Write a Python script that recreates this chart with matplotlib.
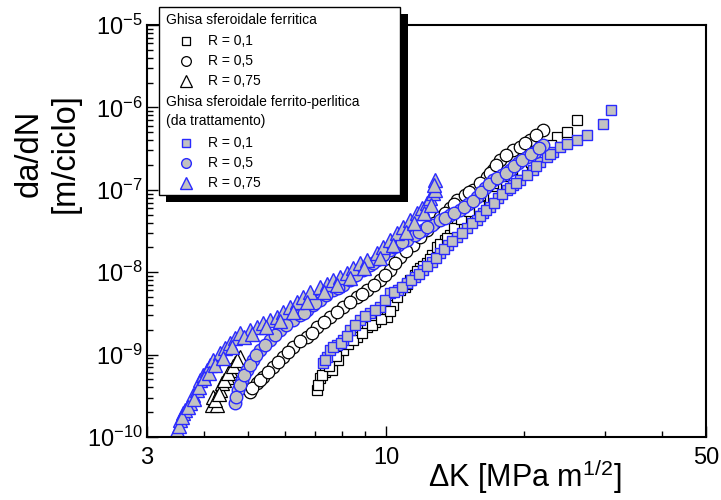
import matplotlib
matplotlib.use('Agg')
import matplotlib.pyplot as plt
from matplotlib.patches import Rectangle
from matplotlib.ticker import FixedLocator, NullFormatter, LogLocator, LogFormatterSciNotation

plt.rcParams['font.family'] = ['Liberation Sans', 'DejaVu Sans']
plt.rcParams['mathtext.fontset'] = 'custom'
plt.rcParams['mathtext.rm'] = 'Liberation Sans'
plt.rcParams['mathtext.it'] = 'Liberation Sans:italic'
plt.rcParams['mathtext.bf'] = 'Liberation Sans:bold'

# ---------------- data ----------------
# Ghisa sferoidale ferritica
fer_r01_dk = [7.058, 7.165, 7.349, 7.614, 7.847, 8.046, 8.634, 9.08, 9.45, 10.04, 10.35, 10.72,
              10.99, 11.27, 11.56, 11.85, 12.28, 12.60, 12.91, 13.44, 13.78, 14.28, 14.87, 15.48,
              16.44, 16.86, 17.47, 17.99, 18.64, 19.31, 20.31, 21.15, 22.23, 23.62, 24.84, 26.12,
              7.10, 7.25, 7.50, 7.75, 8.25, 8.45, 8.85, 9.30, 9.75, 10.20, 10.55, 11.10, 11.70,
              12.05, 12.45, 13.10, 13.60, 14.05, 14.55, 15.20, 15.95, 17.15, 18.30, 19.00, 19.80,
              20.75, 21.70, 22.90]
fer_r01_da = [3.72e-10, 5.20e-10, 6.15e-10, 6.50e-10, 8.60e-10, 1.14e-9, 1.64e-9, 2.16e-9, 2.49e-9,
              2.86e-9, 4.00e-9, 6.08e-9, 6.61e-9, 8.04e-9, 9.25e-9, 1.12e-8, 1.29e-8, 1.62e-8,
              2.02e-8, 2.46e-8, 2.83e-8, 3.96e-8, 4.94e-8, 6.18e-8, 6.54e-8, 7.95e-8, 9.14e-8,
              1.05e-7, 1.21e-7, 1.51e-7, 2.00e-7, 2.30e-7, 2.87e-7, 4.37e-7, 5.03e-7, 7.03e-7,
              4.3e-10, 5.6e-10, 7.2e-10, 9.5e-10, 1.35e-9, 1.50e-9, 1.85e-9, 2.3e-9, 2.7e-9,
              3.4e-9, 5.0e-9, 7.2e-9, 1.02e-8, 1.18e-8, 1.45e-8, 2.2e-8, 2.6e-8, 3.4e-8, 4.4e-8,
              5.5e-8, 6.3e-8, 8.5e-8, 1.12e-7, 1.35e-7, 1.75e-7, 2.15e-7, 2.60e-7, 3.5e-7]

fer_r05_dk = [5.037, 5.218, 5.379, 5.656, 5.948, 6.254, 6.711, 7.058, 7.537, 8.046, 8.634, 9.08,
              9.691, 10.19, 10.72, 11.44, 12.28, 13.11, 13.78, 14.28, 14.87, 15.48, 16.61, 17.12,
              17.73, 18.93, 19.61, 20.62, 22.02,
              5.10, 5.30, 5.52, 5.80, 6.10, 6.48, 6.88, 7.30, 7.80, 8.33, 8.85, 9.40, 9.95, 10.45,
              11.05, 11.85, 12.70, 13.45, 14.05, 15.15, 16.05, 16.85, 17.40, 18.30, 20.10, 21.30]
fer_r05_da = [3.52e-10, 4.52e-10, 5.35e-10, 7.07e-10, 9.35e-10, 1.24e-9, 1.64e-9, 2.16e-9, 2.86e-9,
              3.78e-9, 5.00e-9, 6.08e-9, 8.04e-9, 1.06e-8, 1.53e-8, 2.14e-8, 3.25e-8, 4.68e-8,
              6.01e-8, 7.52e-8, 8.65e-8, 9.94e-8, 1.43e-7, 1.74e-7, 2.30e-7, 3.04e-7, 3.31e-7,
              4.02e-7, 5.32e-7,
              3.9e-10, 4.9e-10, 6.2e-10, 8.2e-10, 1.08e-9, 1.45e-9, 1.85e-9, 2.5e-9, 3.3e-9,
              4.4e-9, 5.5e-9, 7.0e-9, 9.2e-9, 1.28e-8, 1.8e-8, 2.7e-8, 3.9e-8, 5.3e-8, 6.7e-8,
              9.3e-8, 1.2e-7, 1.58e-7, 2.0e-7, 2.65e-7, 3.65e-7, 4.6e-7]

fer_r075_dk = [4.161, 4.267, 4.182, 4.332, 4.375, 4.487, 4.555, 4.671, 4.790,
               4.22, 4.30, 4.42, 4.52, 4.62, 4.72]
fer_r075_da = [2.44e-10, 2.44e-10, 3.06e-10, 3.72e-10, 4.52e-10, 5.35e-10, 6.50e-10, 7.91e-10, 9.35e-10,
               2.8e-10, 3.3e-10, 4.9e-10, 5.9e-10, 7.2e-10, 8.5e-10]

# Ghisa sferoidale ferrito-perlitica (da trattamento)
fp_r01_dk = [7.275, 7.42, 7.537, 7.80, 8.046, 8.335, 8.766, 9.21, 9.691, 10.19, 10.61, 11.10, 11.56,
             12.03, 12.60, 13.11, 13.65, 14.28, 15.02, 15.79, 16.28, 16.86, 17.55, 18.37, 18.93,
             19.61, 20.94, 21.69, 22.46, 23.14, 23.98, 26.12, 27.47, 29.78, 30.99,
             7.35, 7.65, 7.95, 8.20, 8.55, 9.00, 9.45, 9.95, 10.40, 10.85, 11.35, 11.80, 12.30,
             12.85, 13.40, 13.95, 14.65, 15.40, 16.00, 16.55, 17.20, 17.95, 18.65, 19.25, 20.30,
             21.30, 22.80, 24.80]
fp_r01_da = [7.91e-10, 9.35e-10, 1.14e-9, 1.31e-9, 1.50e-9, 1.99e-9, 2.63e-9, 3.20e-9, 3.78e-9,
             5.59e-9, 6.08e-9, 7.39e-9, 8.74e-9, 1.06e-8, 1.33e-8, 1.71e-8, 2.14e-8, 2.67e-8,
             3.44e-8, 4.30e-8, 5.23e-8, 6.18e-8, 7.95e-8, 9.94e-8, 1.14e-7, 1.315e-7, 1.74e-7,
             2.17e-7, 2.50e-7, 2.87e-7, 3.31e-7, 4.02e-7, 4.62e-7, 6.29e-7, 9.30e-7,
             8.5e-10, 1.22e-9, 1.40e-9, 1.7e-9, 2.3e-9, 2.9e-9, 3.5e-9, 4.6e-9, 5.8e-9, 6.7e-9,
             8.0e-9, 9.6e-9, 1.2e-8, 1.5e-8, 1.9e-8, 2.4e-8, 3.0e-8, 3.9e-8, 4.8e-8, 5.7e-8,
             7.0e-8, 8.9e-8, 1.05e-7, 1.22e-7, 1.52e-7, 1.95e-7, 2.70e-7, 3.6e-7]

fp_r05_dk = [4.671, 4.742, 4.839, 4.962, 5.114, 5.298, 5.572, 5.858, 6.254, 6.478, 6.711, 6.917,
             7.165, 7.652, 8.046, 8.335, 8.898, 9.21, 9.546, 10.19, 10.61, 11.10, 11.56, 12.03,
             12.60, 13.11, 13.78, 14.50, 15.09, 15.79, 16.44, 17.12, 17.91, 18.64, 19.41, 20.31,
             21.15, 22.02,
             4.70, 4.79, 4.90, 5.04, 5.20, 5.43, 5.70, 6.05, 6.60, 7.00, 7.40, 7.85, 8.60, 9.35,
             9.85, 10.40, 10.85, 11.80, 12.30, 13.45, 14.10, 14.80, 15.45, 16.10, 16.80, 17.50,
             18.25, 19.00, 19.85, 20.70, 21.60]
fp_r05_da = [2.59e-10, 3.72e-10, 4.92e-10, 6.50e-10, 8.60e-10, 1.14e-9, 1.50e-9, 1.99e-9, 2.63e-9,
             3.02e-9, 3.48e-9, 4.00e-9, 4.60e-9, 6.08e-9, 6.99e-9, 8.04e-9, 1.06e-8, 1.22e-8,
             1.41e-8, 1.86e-8, 2.14e-8, 2.46e-8, 2.83e-8, 3.25e-8, 3.74e-8, 4.30e-8, 4.94e-8,
             5.69e-8, 6.72e-8, 8.18e-8, 1.05e-7, 1.315e-7, 1.51e-7, 1.74e-7, 2.11e-7, 2.50e-7,
             2.87e-7, 3.50e-7,
             3.1e-10, 4.3e-10, 5.6e-10, 7.5e-10, 9.9e-10, 1.30e-9, 1.72e-9, 2.3e-9, 3.2e-9,
             4.2e-9, 5.3e-9, 6.5e-9, 9.2e-9, 1.30e-8, 1.62e-8, 2.0e-8, 2.3e-8, 3.05e-8, 3.5e-8,
             4.6e-8, 5.3e-8, 6.2e-8, 7.4e-8, 9.3e-8, 1.18e-7, 1.40e-7, 1.62e-7, 1.92e-7, 2.3e-7,
             2.7e-7, 3.2e-7]

fp_r075_dk = [3.489, 3.542, 3.596, 3.633, 3.725, 3.781, 3.858, 3.917, 3.978, 4.057, 4.119, 4.182,
              4.332, 4.442, 4.555, 4.671, 4.790, 5.037, 5.218, 5.379, 5.572, 5.77, 5.948, 6.161,
              6.383, 6.577, 6.814, 7.165, 7.42, 7.652, 7.925, 8.211, 8.463, 8.766, 9.08, 9.546,
              9.838, 10.19, 10.56, 10.88, 11.27, 11.68, 11.97, 12.28, 12.47, 12.66, 12.79, 12.79,
              3.52, 3.57, 3.68, 3.80, 3.89, 4.00, 4.09, 4.22, 4.40, 4.60, 4.88, 5.10, 5.45, 5.85,
              6.25, 6.70, 7.30, 7.80, 8.35, 8.95, 9.70, 10.35, 11.05, 11.50, 12.10, 12.55, 12.75]
fp_r075_da = [1.22e-10, 1.61e-10, 1.96e-10, 2.13e-10, 2.59e-10, 3.23e-10, 3.72e-10, 4.92e-10,
              5.65e-10, 6.50e-10, 7.48e-10, 8.60e-10, 1.046e-9, 1.20e-9, 1.38e-9, 1.59e-9, 1.83e-9,
              1.99e-9, 2.16e-9, 2.42e-9, 2.63e-9, 2.86e-9, 3.29e-9, 3.78e-9, 4.35e-9, 5.00e-9,
              5.75e-9, 6.61e-9, 7.19e-9, 8.04e-9, 8.74e-9, 9.78e-9, 1.12e-8, 1.29e-8, 1.41e-8,
              1.71e-8, 2.02e-8, 2.46e-8, 2.99e-8, 3.54e-8, 4.30e-8, 5.23e-8, 6.01e-8, 6.92e-8,
              7.95e-8, 9.14e-8, 9.94e-8, 1.315e-7,
              1.35e-10, 1.75e-10, 2.3e-10, 2.9e-10, 4.1e-10, 5.2e-10, 5.9e-10, 7.4e-10, 9.2e-10,
              1.25e-9, 1.62e-9, 1.80e-9, 2.15e-9, 2.55e-9, 3.3e-9, 4.4e-9, 5.8e-9, 7.0e-9, 8.6e-9,
              1.12e-8, 1.50e-8, 2.15e-8, 3.10e-8, 3.9e-8, 5.3e-8, 6.5e-8, 1.15e-7]

x_ticks = [3, 10, 50]
x_ticklabels = ['3', '10', '50']
x_minor = [4, 5, 6, 7, 8, 9, 20, 30, 40]
y_ticks = [1e-10, 1e-9, 1e-8, 1e-7, 1e-6, 1e-5]

header1 = 'Ghisa sferoidale ferritica'
header2 = 'Ghisa sferoidale ferrito-perlitica\n(da trattamento)'
r_labels = ['R = 0,1', 'R = 0,5', 'R = 0,75']

# ---------------- figure ----------------
W, H = 721, 500
fig = plt.figure(figsize=(W / 100, H / 100), dpi=100)
ax = fig.add_axes([147 / W, 1 - 437 / H, 559 / W, 412 / H])
ax.set_xscale('log')
ax.set_yscale('log')
ax.set_xlim(3, 50)
ax.set_ylim(1e-10, 1e-5)

open_kw = dict(linestyle='none', mfc='white', mec='black', mew=0.9)
fill_kw = dict(linestyle='none', mfc='#c2c2c2', mec='#2a2aff', mew=1.0)
markers = ['s', 'o', '^']
sizes = [7.5, 9, 10]

ax.plot(fer_r01_dk, fer_r01_da, marker='s', ms=sizes[0], **open_kw)
ax.plot(fer_r05_dk, fer_r05_da, marker='o', ms=sizes[1], **open_kw)
ax.plot(fer_r075_dk, fer_r075_da, marker='^', ms=sizes[2], **open_kw)
ax.plot(fp_r01_dk, fp_r01_da, marker='s', ms=sizes[0], **fill_kw)
ax.plot(fp_r05_dk, fp_r05_da, marker='o', ms=sizes[1], **fill_kw)
ax.plot(fp_r075_dk, fp_r075_da, marker='^', ms=sizes[2], **fill_kw)

ax.set_xticks(x_ticks)
ax.set_xticklabels(x_ticklabels)
ax.xaxis.set_minor_locator(FixedLocator(x_minor))
ax.xaxis.set_minor_formatter(NullFormatter())
ax.yaxis.set_major_locator(FixedLocator(y_ticks))
ax.yaxis.set_minor_locator(LogLocator(base=10, subs=range(2, 10), numticks=100))
ax.yaxis.set_major_formatter(LogFormatterSciNotation())
ax.yaxis.set_minor_formatter(NullFormatter())
ax.tick_params(which='both', direction='in', top=False, right=False, width=1.0, labelsize=17)
ax.tick_params(which='major', length=8)
ax.tick_params(which='minor', length=4)
ax.tick_params(axis='x', pad=7)
ax.tick_params(axis='y', pad=3)
for s in ax.spines.values():
    s.set_linewidth(1.5)

fig.text(525 / W, 1 - 477 / H, 'ΔK [MPa m$^{1/2}$]', ha='center', va='center', fontsize=22)
fig.text(47 / W, 1 - 153 / H, 'da/dN\n[m/ciclo]', rotation=90, ha='center', va='center',
         multialignment='center', fontsize=23.5)

# ---------------- legend box ----------------
lax = fig.add_axes([159 / W, 1 - 202 / H, 249 / W, 195 / H], zorder=5)
lax.set_xlim(0, 249)
lax.set_ylim(195, 0)
lax.axis('off')
lax.add_patch(Rectangle((7, 7), 242, 188, facecolor='black', edgecolor='none', clip_on=False))
lax.add_patch(Rectangle((0, 0), 241, 188, facecolor='white', edgecolor='black', lw=1.0, clip_on=False))
fs = 10
lax.text(7, 13, header1, va='center', ha='left', fontsize=fs)
rows1 = [34, 54, 74]
rows2 = [136, 156, 176]
leg_sizes = [6, 7, 8]
for m, sz, yy, lab in zip(markers, leg_sizes, rows1, r_labels):
    lax.plot([27], [yy], marker=m, ms=sz, clip_on=False, **open_kw)
    lax.text(49, yy, lab, va='center', ha='left', fontsize=fs)
lax.text(7, 104.5, header2, va='center', ha='left', fontsize=fs, linespacing=1.45)
for m, sz, yy, lab in zip(markers, leg_sizes, rows2, r_labels):
    lax.plot([27], [yy], marker=m, ms=sz, clip_on=False, **fill_kw)
    lax.text(49, yy, lab, va='center', ha='left', fontsize=fs)

fig.savefig('out.png', dpi=100)
